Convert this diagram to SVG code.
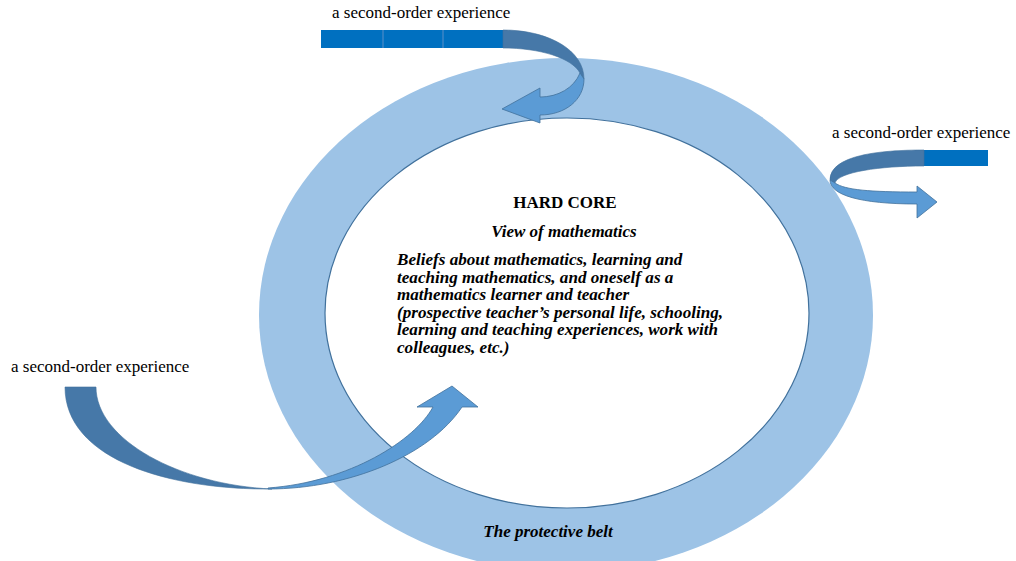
<svg xmlns="http://www.w3.org/2000/svg" width="1016" height="561" viewBox="0 0 1016 561">
<style>
.lbl{font-family:"Liberation Serif","Times New Roman",serif;font-size:17px;fill:#000}
.bi{font-family:"Liberation Serif","Times New Roman",serif;font-size:17px;font-weight:bold;font-style:italic;fill:#000}
.body{font-size:17.1px}
.b{font-family:"Liberation Serif","Times New Roman",serif;font-size:17px;font-weight:bold;fill:#000}
.dark{fill:#4678A8;stroke:#41719C;stroke-width:0.6}
.light{fill:#5B9BD5;stroke:#41719C;stroke-width:0.8}
.bar{fill:#0070C0}
.div{stroke:#5A8FC8;stroke-width:1}
</style>
<rect width="1016" height="561" fill="#fff"/>
<g id="protective-belt">
<ellipse cx="566" cy="315" rx="307" ry="257" fill="#9DC3E6"/>
</g>
<g id="hard-core">
<ellipse cx="567" cy="313" rx="242" ry="195" fill="#fff" stroke="#41719C" stroke-width="1.2"/>
<text class="b" x="565" y="208" text-anchor="middle">HARD CORE</text>
<text class="bi" x="564" y="237" text-anchor="middle">View of mathematics</text>
<text class="bi body" x="397" y="265">Beliefs about mathematics, learning and</text>
<text class="bi body" x="397" y="282.5">teaching mathematics, and oneself as a</text>
<text class="bi body" x="397" y="300">mathematics learner and teacher</text>
<text class="bi body" x="397" y="317.5">(prospective teacher’s personal life, schooling,</text>
<text class="bi body" x="397" y="335">learning and teaching experiences, work with</text>
<text class="bi body" x="397" y="352.5">colleagues, etc.)</text>
</g>
<g id="belt-label">
<text class="bi" x="548" y="537" text-anchor="middle">The protective belt</text>
</g>
<g id="experience-top">
<text class="lbl" x="332" y="18">a second-order experience</text>
<rect class="bar" x="321" y="30" width="182" height="18"/>
<line class="div" x1="383" y1="30" x2="383" y2="48"/>
<line class="div" x1="443" y1="30" x2="443" y2="48"/>
</g>
<g id="experience-right">
<text class="lbl" x="832" y="138">a second-order experience</text>
<rect class="bar" x="923" y="150" width="65" height="16"/>
</g>
<g id="experience-left">
<text class="lbl" x="11" y="372">a second-order experience</text>
</g>
<g id="connectors">
<path class="dark" d="M503,30 C548,30 584,50 584,79 L580,73 C572,58 540,48 503,48 Z"/>
<path class="light" d="M584,79 C584,100 565,115 540,115 L540,123 L502,109 L540,88 L540,97 C558,97 574,88 580,73 Z"/>
<path class="dark" d="M924,150 C880,150 830,155 830,180 L835,183 C838,172 880,166 924,166 Z"/>
<path class="light" d="M830,180 C830,195 860,204 917,204 L917,218 L937,202 L917,186 L917,192 C870,192 845,190 835,183 Z"/>
<path class="dark" d="M65,387 L96,387 C96,440 180,485 272,489 C170,490 65,460 65,387 Z"/>
<path class="light" d="M268,489 C350,489 430,455 462,407 L478,407 L452,386 L417,407 L433,407 C415,440 350,482 268,488 Z"/>
</g>
</svg>
